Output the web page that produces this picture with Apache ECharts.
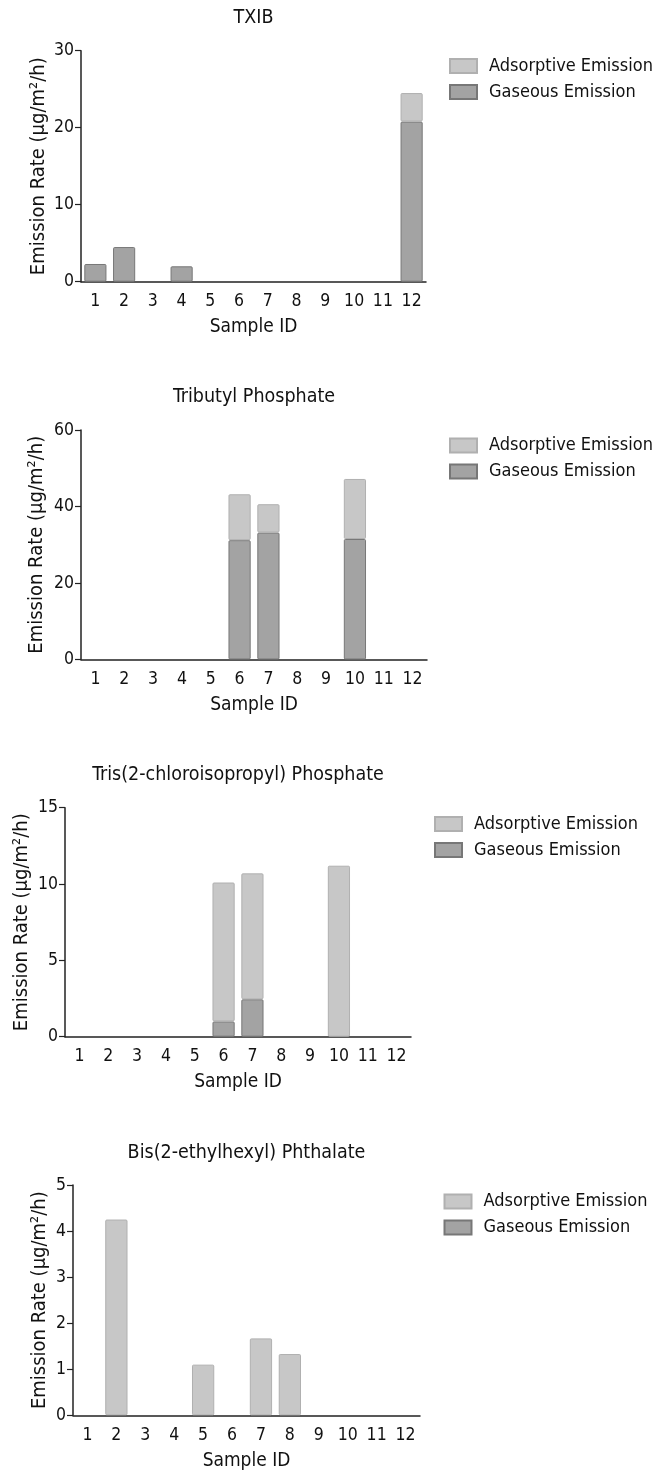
<!DOCTYPE html>
<html>
<head>
<meta charset="utf-8">
<script src="https://cdn.jsdelivr.net/npm/echarts@6/dist/echarts.min.js"></script>
<style>html,body{margin:0;padding:0;background:#fff;}#c{width:662px;height:1474px;}</style>
</head>
<body>
<div id="c"></div>
<script>
// ---- data ----
const categories = ['1','2','3','4','5','6','7','8','9','10','11','12'];
const panelTitles = ['TXIB', 'Tributyl Phosphate', 'Tris(2-chloroisopropyl) Phosphate', 'Bis(2-ethylhexyl) Phthalate'];
const seriesNames = ['Adsorptive Emission', 'Gaseous Emission'];
const yAxisTitle = 'Emission Rate (μg/m²/h)';
const xAxisTitle = 'Sample ID';

const txibGaseous    = [2.3, 4.5, 0, 2.0, 0, 0, 0, 0, 0, 0, 0, 20.8];
const txibAdsorptive = [0, 0, 0, 0, 0, 0, 0, 0, 0, 0, 0, 3.7];

const tbpGaseous     = [0, 0, 0, 0, 0, 31.2, 33.2, 0, 0, 31.5, 0, 0];
const tbpAdsorptive  = [0, 0, 0, 0, 0, 12.0, 7.4, 0, 0, 15.7, 0, 0];

const tcppGaseous    = [0, 0, 0, 0, 0, 1.0, 2.45, 0, 0, 0, 0, 0];
const tcppAdsorptive = [0, 0, 0, 0, 0, 9.1, 8.25, 0, 0, 11.2, 0, 0];

const dehpGaseous    = [0, 0, 0, 0, 0, 0, 0, 0, 0, 0, 0, 0];
const dehpAdsorptive = [0, 4.25, 0, 0, 1.1, 0, 1.67, 1.33, 0, 0, 0, 0];

const yMax = [30, 60, 15, 5];
const yStep = [10, 20, 5, 1];

// ---- layout ----
const FONT = "'DejaVu Sans Condensed', 'DejaVu Sans', Verdana, sans-serif";
const grids = [
  {left: 81, top: 50.7, width: 345, height: 231},
  {left: 81, top: 430, width: 346, height: 229.5},
  {left: 65, top: 807.7, width: 346, height: 229},
  {left: 73, top: 1185, width: 347, height: 230.3}
];
const titleTops = [6.5, 385, 763.5, 1141.8];
const legendPos = [
  {left: 449, top: 57},
  {left: 449, top: 436.5},
  {left: 434, top: 815},
  {left: 443.5, top: 1192.5}
];
const yNameGaps = [32, 34, 33, 23];

const gaseousColor = {color: '#a3a3a3', borderColor: '#777777', borderWidth: 1, borderRadius: 1};
const adsorptiveColor = {color: '#c7c7c7', borderColor: '#b0b0b0', borderWidth: 1, borderRadius: 1};

const dataSets = [
  [txibGaseous, txibAdsorptive],
  [tbpGaseous, tbpAdsorptive],
  [tcppGaseous, tcppAdsorptive],
  [dehpGaseous, dehpAdsorptive]
];

const option = {
  backgroundColor: '#fff',
  animation: false,
  title: [], grid: [], xAxis: [], yAxis: [], legend: [], series: []
};

// zero values are drawn as empty (no bar) like the reference
const nz = arr => arr.map(v => (v === 0 ? '-' : v));

for (let i = 0; i < 4; i++) {
  const g = grids[i];
  option.grid.push({left: g.left, top: g.top, width: g.width, height: g.height, containLabel: false});
  option.title.push({
    text: panelTitles[i], left: g.left + g.width / 2, top: titleTops[i], textAlign: 'center', padding: 0,
    textStyle: {fontFamily: FONT, fontSize: 19.5, fontWeight: 'normal', color: '#111', lineHeight: 23}
  });
  option.xAxis.push({
    type: 'category', gridIndex: i, data: categories,
    axisLine: {lineStyle: {color: '#222', width: 1.5}},
    axisTick: {alignWithLabel: true, length: 7, lineStyle: {color: '#222', width: 1.2}},
    axisLabel: {fontFamily: FONT, fontSize: 17.5, color: '#111', margin: 11},
    name: xAxisTitle, nameLocation: 'middle', nameGap: 36, nameMoveOverlap: false,
    nameTextStyle: {fontFamily: FONT, fontSize: 19, color: '#111'}
  });
  option.yAxis.push({
    type: 'value', gridIndex: i, min: 0, max: yMax[i], interval: yStep[i],
    axisLine: {show: true, lineStyle: {color: '#222', width: 1.5}},
    axisTick: {show: true, length: 6, lineStyle: {color: '#222', width: 1.2}},
    splitLine: {show: false},
    axisLabel: {fontFamily: FONT, fontSize: 17.5, color: '#111', margin: 7},
    name: yAxisTitle, nameLocation: 'middle', nameRotate: 90, nameGap: yNameGaps[i], nameMoveOverlap: false,
    nameTextStyle: {fontFamily: FONT, fontSize: 20, color: '#111'}
  });
  option.legend.push({
    orient: 'vertical', left: legendPos[i].left, top: legendPos[i].top,
    data: seriesNames, itemWidth: 27, itemHeight: 14, itemGap: 8, icon: 'rect', padding: 0,
    selectedMode: false,
    textStyle: {fontFamily: FONT, fontSize: 18, color: '#111', lineHeight: 14, padding: [0, 0, 0, 7]}
  });
  const [gas, ads] = dataSets[i];
  option.series.push({
    name: seriesNames[1], type: 'bar', xAxisIndex: i, yAxisIndex: i, stack: 's' + i,
    data: nz(gas), barWidth: '77%', itemStyle: gaseousColor
  });
  option.series.push({
    name: seriesNames[0], type: 'bar', xAxisIndex: i, yAxisIndex: i, stack: 's' + i,
    data: nz(ads), barWidth: '77%', itemStyle: adsorptiveColor
  });
}

const chart = echarts.init(document.getElementById('c'), null, {renderer: 'canvas'});
chart.setOption(option);
</script>
</body>
</html>
